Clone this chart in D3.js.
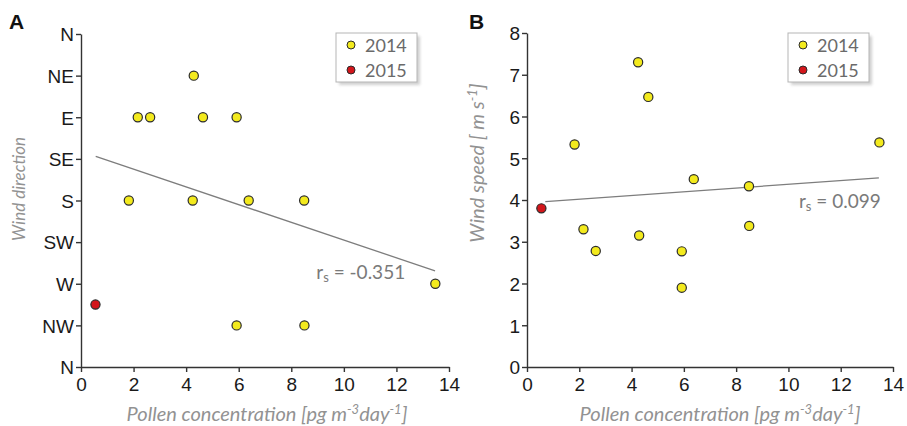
<!DOCTYPE html>
<html>
<head>
<meta charset="utf-8">
<script src="https://cdn.jsdelivr.net/npm/d3@7/dist/d3.min.js"></script>
<style>
  body { margin: 0; background: #fff; }
  svg { display: block; font-family: Lato, "Open Sans", sans-serif; }
  .tick text { font-size: 19px; fill: #1a1a1a; }
  .axis path, .axis line { stroke: #333; stroke-width: 1.4; }
  .axlabel { font-style: italic; fill: #929292; }
  .rs { font-size: 19px; fill: #7a7a7a; }
  .legend text { font-size: 18px; fill: #6a6a6a; }
</style>
</head>
<body>
<svg width="907" height="426"></svg>
<script>
// data
var pollen    = [0.55, 1.82, 2.16, 2.63, 4.25, 4.29, 4.64, 5.92, 5.92, 6.38, 8.49, 8.5, 13.48];
var years     = [2015, 2014, 2014, 2014, 2014, 2014, 2014, 2014, 2014, 2014, 2014, 2014, 2014];
// direction index: 0=N 1=NW 2=W 3=SW 4=S 5=SE 6=E 7=NE 8=N
var direction = [1.5, 4, 6, 6, 4, 7, 6, 6, 1, 4, 4, 1, 2];
var speed     = [3.8, 5.33, 3.3, 2.78, 7.3, 3.15, 6.47, 2.77, 1.9, 4.5, 4.33, 3.38, 5.38];

var dirLabels = ['N', 'NW', 'W', 'SW', 'S', 'SE', 'E', 'NE', 'N'];
var xTicks = [0, 2, 4, 6, 8, 10, 12, 14];
var speedTicks = [0, 1, 2, 3, 4, 5, 6, 7, 8];

var trendA = [[0.56, 5.06], [13.47, 2.31]];
var trendB = [[0.7, 3.96], [13.46, 4.53]];

var legendYears = [2014, 2015];
var colors = { 2014: '#f3ea1d', 2015: '#d3161b' };

var dom = {};

function drawPanel(opt) {
    var g = dom.svg.append('g');
    var x = d3.scaleLinear().domain([0, 14]).range(opt.xRange);
    var y = d3.scaleLinear().domain(opt.yDomain).range(opt.yRange);

    g.append('g').attr('class', 'axis')
        .attr('transform', 'translate(0,' + opt.yRange[0] + ')')
        .call(d3.axisBottom(x).tickValues(xTicks).tickSize(5).tickSizeOuter(0).tickPadding(6));

    var ya = g.append('g').attr('class', 'axis')
        .attr('transform', 'translate(' + opt.xRange[0] + ',0)')
        .call(d3.axisLeft(y).tickValues(opt.yTicks).tickFormat(opt.yFormat)
            .tickSize(5).tickSizeOuter(0).tickPadding(2));
    ya.selectAll('.tick text').attr('dy', '0.36em');

    // trend line
    g.append('line')
        .attr('x1', x(opt.trend[0][0])).attr('y1', y(opt.trend[0][1]))
        .attr('x2', x(opt.trend[1][0])).attr('y2', y(opt.trend[1][1]))
        .attr('stroke', '#7d7d7d').attr('stroke-width', 1.3);

    g.selectAll('.dot')
            .data(pollen.map(function(p, i) { return { x: p, y: opt.values[i], year: years[i] }; }))
        .enter().append('circle')
            .attr('class', 'dot')
            .attr('r', 4.6)
            .attr('cx', function(d) { return x(d.x); })
            .attr('cy', function(d) { return y(d.y); })
            .attr('fill', function(d) { return colors[d.year]; })
            .attr('stroke', '#2b2b2b')
            .attr('stroke-width', 1.2);

    var rs = g.append('text').attr('class', 'rs')
        .attr('x', x(opt.rs.x)).attr('y', y(opt.rs.y));
    rs.append('tspan').text('r');
    rs.append('tspan').attr('dy', 3).style('font-size', '13px').text('s');
    rs.append('tspan').attr('dy', -3).text(' = ' + opt.rs.text);

    // axis titles
    var xt = g.append('text').attr('class', 'axlabel').style('font-size', '20px')
        .attr('x', (opt.xRange[0] + opt.xRange[1]) / 2 + opt.xTitleShift).attr('y', 421)
        .attr('text-anchor', 'middle');
    xt.append('tspan').text('Pollen concentration [pg m');
    xt.append('tspan').attr('dy', -7).style('font-size', '13px').text('-3');
    xt.append('tspan').attr('dy', 7).text('day');
    xt.append('tspan').attr('dy', -7).style('font-size', '13px').text('-1');
    xt.append('tspan').attr('dy', 7).text(']');

    var yt = g.append('text').attr('class', 'axlabel').style('font-size', opt.yTitle.size + 'px')
        .attr('transform', 'translate(' + opt.yTitle.x + ',' + opt.yTitle.y + ') rotate(-90)')
        .attr('text-anchor', 'middle');
    opt.yTitle.parts.forEach(function(p) {
        var t = yt.append('tspan').text(p.t);
        if (p.dy) t.attr('dy', p.dy);
        if (p.small) t.style('font-size', '13px');
    });

    // panel letter
    g.append('text').attr('x', opt.letter.x).attr('y', 29)
        .style('font-size', '21px').style('font-weight', 'bold').style('fill', '#111')
        .style('font-family', 'Liberation Sans, Arial, sans-serif')
        .text(opt.letter.t);

    // legend
    var lg = g.append('g').attr('class', 'legend')
        .attr('transform', 'translate(' + opt.legendX + ',33)');
    lg.append('rect').attr('x', 3).attr('y', 3).attr('width', 81).attr('height', 49)
        .attr('fill', '#d0d0d0').attr('filter', 'url(#blur)');
    lg.append('rect').attr('width', 81).attr('height', 49)
        .attr('fill', '#fff').attr('stroke', '#b5b5b5').attr('stroke-width', 1);
    var item = lg.selectAll('.item').data(legendYears)
        .enter().append('g')
        .attr('transform', function(d, i) { return 'translate(0,' + (12 + i * 25) + ')'; });
    item.append('circle').attr('cx', 15).attr('cy', 0).attr('r', 4)
        .attr('fill', function(d) { return colors[d]; })
        .attr('stroke', '#2b2b2b').attr('stroke-width', 1);
    item.append('text').attr('x', 29).attr('y', 6.5).text(function(d) { return d; });
}

function initialize() {
    dom.svg = d3.select('svg');
    dom.svg.append('defs').append('filter').attr('id', 'blur')
        .append('feGaussianBlur').attr('stdDeviation', 1.5);

    drawPanel({
        xRange: [81, 449], yRange: [367, 34], yDomain: [0, 8],
        yTicks: d3.range(9), yFormat: function(d) { return dirLabels[d]; },
        values: direction, trend: trendA,
        rs: { x: 8.95, y: 2.12, text: '-0.351' },
        xTitleShift: 2,
        yTitle: { x: 25, y: 189, size: 17, parts: [{ t: 'Wind direction' }] },
        letter: { x: 9, t: 'A' },
        legendX: 336
    });

    drawPanel({
        xRange: [527, 893], yRange: [367, 33], yDomain: [0, 8],
        yTicks: speedTicks, yFormat: d3.format('d'),
        values: speed, trend: trendB,
        rs: { x: 10.4, y: 3.8, text: '0.099' },
        xTitleShift: 10,
        yTitle: { x: 484, y: 163, size: 20, parts: [{ t: 'Wind speed [ m s' }, { t: '-1', dy: -7, small: true }, { t: ']', dy: 7 }] },
        letter: { x: 469, t: 'B' },
        legendX: 788
    });
}

initialize();
</script>
</body>
</html>
